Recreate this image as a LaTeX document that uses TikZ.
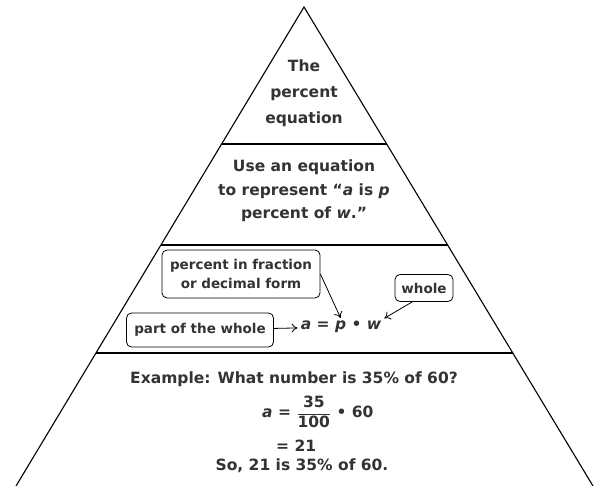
\documentclass[tikz,border=0pt]{standalone}
\usepackage{fontspec}
\setmainfont{DejaVu Sans}
\usepackage{amsmath}
\usetikzlibrary{calc,arrows.meta}

\begin{document}
\begin{tikzpicture}[x=1pt,y=-1pt,
  every node/.style={text=black!80},
  level/.style={align=center,font=\fontsize{15.5}{24}\selectfont\bfseries},
  tag/.style={draw=black,rounded corners=5pt,line width=0.8pt,align=center,
    font=\fontsize{13.5}{19}\selectfont\bfseries,inner sep=4pt},
  divider/.style={line width=1.6pt},
  pointer/.style={-{To[length=6pt,width=9pt]},line width=0.8pt,shorten >=1pt}]
\useasboundingbox (0,0) rectangle (599,486);
% sides of the pyramid
\coordinate (apex) at (304,7);
\coordinate (bl) at (16,486);
\coordinate (br) at (593,486);
\draw[line width=1.1pt] (bl) -- (apex) -- (br);
% levels
\draw[divider] ($(apex)!0.286!(bl)$) -- ($(apex)!0.286!(br)$);
\draw[divider] ($(apex)!0.497!(bl)$) -- ($(apex)!0.497!(br)$);
\draw[divider] ($(apex)!0.722!(bl)$) -- ($(apex)!0.722!(br)$);
% level 1
\node[level,font=\fontsize{15.5}{26}\selectfont\bfseries] (title) at (304,93) {The\\percent\\equation};
% level 2
\node[level,font=\fontsize{15.5}{23.5}\selectfont\bfseries] (use) at (304,191)
  {Use an equation\\to represent “\textit{a} is \textit{p}\\percent of \textit{w}.”};
% level 3
\node[tag,minimum width=158,minimum height=48] (pct) at (241,274) {percent in fraction\\or decimal form};
\node[tag,minimum width=58,minimum height=27] (whole) at (424,288) {whole};
\node[tag,minimum width=147,minimum height=34] (part) at (200,330) {part of the whole};
\node[font=\fontsize{15.5}{18}\selectfont\bfseries,inner sep=2pt] (eq) at (341,327)
  {\textit{a} = \textit{p} • \textit{w}};
\draw[pointer] (part) -- (eq);
\draw[pointer] (pct.east) -- (eq.north);
\draw[pointer] ($(whole.south west)!0.3!(whole.south east)$) -- (eq.north east);
% level 4
\node[level] (ask) at (294,379) {Example: What number is 35\% of 60?};
\node[level,anchor=west,inner sep=0pt] (calc) at (262,412)
  {\textit{a} = $\dfrac{\text{\bfseries 35}}{\text{\bfseries 100}}$ • 60};
\node[level,anchor=west,inner sep=0pt] (res) at (276,446) {= 21};
\node[level] (ans) at (302,466) {So, 21 is 35\% of 60.};
\end{tikzpicture}
\end{document}
